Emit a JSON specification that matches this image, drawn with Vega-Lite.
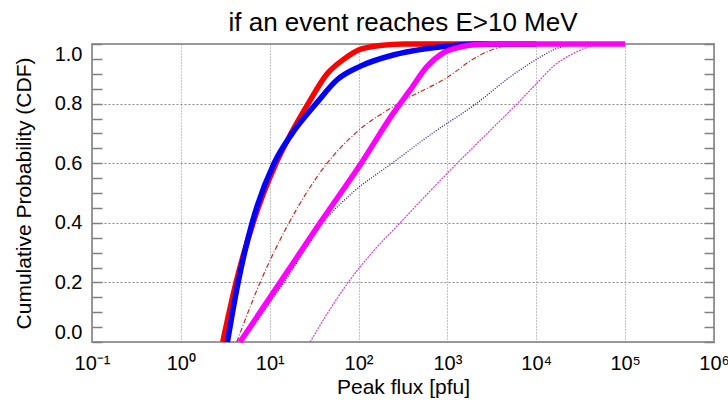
{
  "$schema": "https://vega.github.io/schema/vega-lite/v6.json",
  "width": 622,
  "height": 298,
  "autosize": {"type": "none"},
  "padding": {"left": 92, "top": 44, "right": 14, "bottom": 68},
  "background": "white",
  "title": {"text": "if an event reaches E>10 MeV", "font": "Liberation Sans", "fontSize": 26, "fontWeight": "normal", "color": "black", "anchor": "middle", "frame": "group", "offset": 6, "dy": 9},
  "config": {
    "view": {"stroke": "#999999", "strokeWidth": 2},
    "axis": {"labelFont": "Liberation Sans", "titleFont": "Liberation Sans", "labelColor": "black", "titleColor": "black", "titleFontWeight": "normal"}
  },
  "data": {"values": [
    {"s": "r", "x": 4.26, "y": 0}, {"s": "r", "x": 7.8, "y": 0.2}, {"s": "r", "x": 16.5, "y": 0.4}, {"s": "r", "x": 44.3, "y": 0.6}, {"s": "r", "x": 91.6, "y": 0.7}, {"s": "r", "x": 279, "y": 0.8}, {"s": "r", "x": 1021, "y": 0.89}, {"s": "r", "x": 2148, "y": 0.957}, {"s": "r", "x": 3933, "y": 0.99}, {"s": "r", "x": 5800, "y": 1},
    {"s": "b", "x": 4.89, "y": 0}, {"s": "b", "x": 8.43, "y": 0.1}, {"s": "b", "x": 14.5, "y": 0.2}, {"s": "b", "x": 23.8, "y": 0.3}, {"s": "b", "x": 39.9, "y": 0.4}, {"s": "b", "x": 84.7, "y": 0.5}, {"s": "b", "x": 239, "y": 0.6}, {"s": "b", "x": 675, "y": 0.7}, {"s": "b", "x": 2110, "y": 0.8}, {"s": "b", "x": 5096, "y": 0.89}, {"s": "b", "x": 10260, "y": 0.95}, {"s": "b", "x": 15530, "y": 0.98}, {"s": "b", "x": 24150, "y": 0.997}, {"s": "b", "x": 33800, "y": 1},
    {"s": "m", "x": 28.5, "y": 0}, {"s": "m", "x": 45.5, "y": 0.1}, {"s": "m", "x": 76.4, "y": 0.2}, {"s": "m", "x": 142, "y": 0.3}, {"s": "m", "x": 294, "y": 0.4}, {"s": "m", "x": 608, "y": 0.5}, {"s": "m", "x": 1289, "y": 0.6}, {"s": "m", "x": 2806, "y": 0.7}, {"s": "m", "x": 6110, "y": 0.8}, {"s": "m", "x": 10260, "y": 0.87}, {"s": "m", "x": 15530, "y": 0.925}, {"s": "m", "x": 24150, "y": 0.963}, {"s": "m", "x": 37500, "y": 0.989}, {"s": "m", "x": 47400, "y": 1},
    {"s": "R", "x": 2.96, "y": 0}, {"s": "R", "x": 4.18, "y": 0.2}, {"s": "R", "x": 6.5, "y": 0.4}, {"s": "R", "x": 11.8, "y": 0.6}, {"s": "R", "x": 17.4, "y": 0.7}, {"s": "R", "x": 27.1, "y": 0.8}, {"s": "R", "x": 44.3, "y": 0.9}, {"s": "R", "x": 68.9, "y": 0.95}, {"s": "R", "x": 100, "y": 0.98}, {"s": "R", "x": 175, "y": 0.995}, {"s": "R", "x": 335, "y": 1}, {"s": "R", "x": 3000, "y": 1},
    {"s": "B", "x": 3.34, "y": 0}, {"s": "B", "x": 4.41, "y": 0.2}, {"s": "B", "x": 6.34, "y": 0.4}, {"s": "B", "x": 11.2, "y": 0.6}, {"s": "B", "x": 17.9, "y": 0.7}, {"s": "B", "x": 33.3, "y": 0.8}, {"s": "B", "x": 57.4, "y": 0.88}, {"s": "B", "x": 104, "y": 0.925}, {"s": "B", "x": 245, "y": 0.963}, {"s": "B", "x": 593, "y": 0.985}, {"s": "B", "x": 1393, "y": 0.997}, {"s": "B", "x": 2340, "y": 1}, {"s": "B", "x": 10000, "y": 1},
    {"s": "M", "x": 4.64, "y": 0}, {"s": "M", "x": 13.1, "y": 0.2}, {"s": "M", "x": 36.9, "y": 0.4}, {"s": "M", "x": 107, "y": 0.6}, {"s": "M", "x": 245, "y": 0.767}, {"s": "M", "x": 381, "y": 0.846}, {"s": "M", "x": 588, "y": 0.924}, {"s": "M", "x": 897, "y": 0.97}, {"s": "M", "x": 1393, "y": 0.99}, {"s": "M", "x": 2167, "y": 0.998}, {"s": "M", "x": 3000, "y": 1}, {"s": "M", "x": 100000, "y": 1}
  ]},
  "encoding": {
    "x": {"field": "x", "type": "quantitative", "scale": {"type": "log", "domain": [0.1, 1000000], "nice": false},
      "axis": {"values": [0.1, 1, 10, 100, 1000, 10000, 100000, 1000000],
        "labelExpr": "datum.value < 0.5 ? '10⁻¹' : datum.value < 5 ? '10⁰' : datum.value < 50 ? '10¹' : datum.value < 500 ? '10²' : datum.value < 5000 ? '10³' : datum.value < 50000 ? '10⁴' : datum.value < 500000 ? '10⁵' : '10⁶'",
        "ticks": false, "domain": false, "grid": true, "gridColor": "#888888", "gridDash": [1, 2], "gridWidth": 1,
        "labelFontSize": 20, "labelPadding": 11, "labelFlush": false, "labelOverlap": false, "labelBound": false,
        "title": "Peak flux [pfu]", "titleFontSize": 21, "titleY": 34, "titleBaseline": "top"}}
  },
  "layer": [
    {"transform": [{"filter": "datum.s == 'r'"}], "mark": {"type": "line", "interpolate": "monotone", "color": "#c8281e", "strokeWidth": 1.2, "strokeDash": [5, 2, 1, 2]},
     "encoding": {"y": {"field": "y", "type": "quantitative", "scale": {"domain": [0, 1], "nice": false},
       "axis": {"values": [0, 0.05, 0.1, 0.15, 0.2, 0.25, 0.3, 0.35, 0.4, 0.45, 0.5, 0.55, 0.6, 0.65, 0.7, 0.75, 0.8, 0.85, 0.9, 0.95, 1],
         "labelExpr": "round(datum.value*20) % 4 == 0 ? format(datum.value, '.1f') : ''",
         "labelFlush": true, "labelOverlap": false, "labelFontSize": 20, "labelPadding": 20,
         "grid": true, "gridColor": "#888888", "gridDash": [2, 2], "gridWidth": 1,
         "gridOpacity": {"condition": {"test": "round(datum.value*20) % 4 == 0 && datum.value > 0.01 && datum.value < 0.99", "value": 1}, "value": 0},
         "domain": false, "tickSize": -10, "tickColor": "#808080", "tickWidth": 1.5,
         "title": "Cumulative Probability (CDF)", "titleFontSize": 21, "titleX": -68, "titleY": 149, "titleBaseline": "middle", "titleAlign": "center"}}}},
    {"transform": [{"filter": "datum.s == 'b'"}], "mark": {"type": "line", "interpolate": "monotone", "color": "#1c1c96", "strokeWidth": 1.3, "strokeDash": [1, 1.5]},
     "encoding": {"y": {"field": "y", "type": "quantitative", "axis": null}}},
    {"transform": [{"filter": "datum.s == 'm'"}], "mark": {"type": "line", "interpolate": "monotone", "color": "#d040d0", "strokeWidth": 1.2, "strokeDash": [2, 1]},
     "encoding": {"y": {"field": "y", "type": "quantitative", "axis": null}}},
    {"transform": [{"filter": "datum.s == 'R'"}], "mark": {"type": "line", "interpolate": "monotone", "color": "#ff0000", "strokeWidth": 5.5},
     "encoding": {"y": {"field": "y", "type": "quantitative", "axis": null}}},
    {"transform": [{"filter": "datum.s == 'B'"}], "mark": {"type": "line", "interpolate": "monotone", "color": "#0000ff", "strokeWidth": 5.5},
     "encoding": {"y": {"field": "y", "type": "quantitative", "axis": null}}},
    {"transform": [{"filter": "datum.s == 'M'"}], "mark": {"type": "line", "interpolate": "monotone", "color": "#ff00ff", "strokeWidth": 5.5},
     "encoding": {"y": {"field": "y", "type": "quantitative",
       "axis": {"orient": "right", "values": [0, 0.05, 0.1, 0.15, 0.2, 0.25, 0.3, 0.35, 0.4, 0.45, 0.5, 0.55, 0.6, 0.65, 0.7, 0.75, 0.8, 0.85, 0.9, 0.95, 1],
         "labels": false, "grid": false, "domain": false, "tickSize": -10, "tickColor": "#808080", "tickWidth": 1.5, "title": null}}}}
  ],
  "resolve": {"axis": {"y": "independent"}}
}
